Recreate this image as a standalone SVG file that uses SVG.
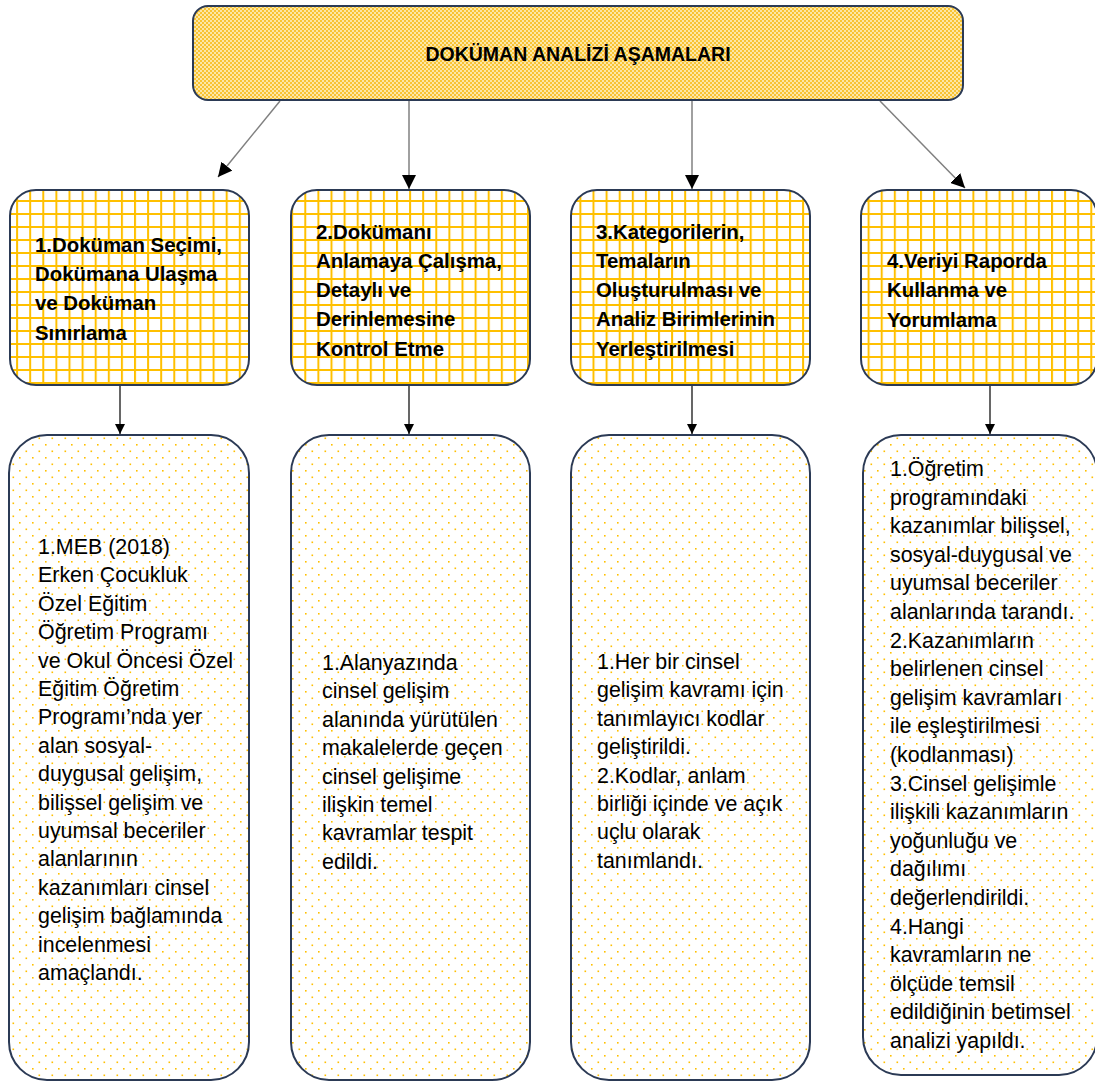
<svg xmlns="http://www.w3.org/2000/svg" width="1095" height="1082" viewBox="0 0 1095 1082">
<defs>
<pattern id="checker" patternUnits="userSpaceOnUse" width="4" height="4">
<rect width="4" height="4" fill="#FDE7A6"/>
<rect width="2" height="2" fill="#F8C334"/>
<rect x="2" y="2" width="2" height="2" fill="#F8C334"/>
</pattern>
<pattern id="grid" patternUnits="userSpaceOnUse" x="3" y="5" width="13.1" height="13">
<rect width="13.1" height="13" fill="#ffffff"/>
<rect width="2" height="13" fill="#FFC000"/>
<rect width="13.1" height="2" fill="#FFC000"/>
</pattern>
<pattern id="dots" patternUnits="userSpaceOnUse" x="6" y="2" width="13" height="13">
<rect width="13" height="13" fill="#ffffff"/>
<rect x="0" y="0" width="1.6" height="1.6" fill="#FFC000"/>
<rect x="6.5" y="6.5" width="1.6" height="1.6" fill="#FFC000"/>
</pattern>
<marker id="arr" viewBox="0 0 10 10" refX="10" refY="5" markerWidth="10" markerHeight="10" markerUnits="userSpaceOnUse" orient="auto">
<path d="M0,0 L10,5 L0,10 z" fill="#000000"/>
</marker>
<marker id="arrL" viewBox="0 0 10 10" refX="10" refY="5" markerWidth="14" markerHeight="14" markerUnits="userSpaceOnUse" orient="auto">
<path d="M0,0 L10,5 L0,10 z" fill="#000000"/>
</marker>
</defs>
<style>
.box{stroke:#2B3A55;stroke-width:2}
.top{fill:url(#checker)}
.hdr{fill:url(#grid)}
.body{fill:url(#dots)}
.ttl{font-family:"Liberation Sans",Arial,sans-serif;font-weight:bold;font-size:19.5px;fill:#000}
.h{font-family:"Liberation Sans",Arial,sans-serif;font-weight:bold;font-size:20.4px;fill:#000}
.b{font-family:"Liberation Sans",Arial,sans-serif;font-size:21.4px;fill:#000}
.cg{stroke:#808080;stroke-width:1.5;fill:none}
.ck{stroke:#000000;stroke-width:1.2;fill:none}
</style>

<g id="connectors">
<line class="cg" x1="280" y1="101" x2="218" y2="177" marker-end="url(#arrL)"/>
<line class="cg" x1="409" y1="101" x2="409" y2="189" marker-end="url(#arrL)"/>
<line class="cg" x1="692" y1="101" x2="692" y2="189" marker-end="url(#arrL)"/>
<line class="cg" x1="880" y1="101" x2="965" y2="188" marker-end="url(#arrL)"/>
<line class="ck" x1="120" y1="386" x2="120" y2="434" marker-end="url(#arr)"/>
<line class="ck" x1="409" y1="386" x2="409" y2="434" marker-end="url(#arr)"/>
<line class="ck" x1="692" y1="386" x2="692" y2="434" marker-end="url(#arr)"/>
<line class="ck" x1="990" y1="386" x2="990" y2="434" marker-end="url(#arr)"/>
</g>

<g id="title">
<rect class="box top" x="193" y="6" width="770" height="94" rx="15" ry="15"/>
<text class="ttl" x="578" y="61" text-anchor="middle">DOKÜMAN ANALİZİ AŞAMALARI</text>
</g>

<g id="step1">
<rect class="box hdr" x="10" y="190" width="239" height="195" rx="26" ry="26"/>
<text class="h" x="35" y="252">1.Doküman Seçimi,<tspan x="35" y="281">Dokümana Ulaşma</tspan><tspan x="35" y="310">ve Doküman</tspan><tspan x="35" y="340">Sınırlama</tspan></text>
</g>

<g id="step2">
<rect class="box hdr" x="291" y="190" width="239" height="195" rx="26" ry="26"/>
<text class="h" x="316" y="239">2.Dokümanı<tspan x="316" y="268">Anlamaya Çalışma,</tspan><tspan x="316" y="297">Detaylı ve</tspan><tspan x="316" y="326">Derinlemesine</tspan><tspan x="316" y="356">Kontrol Etme</tspan></text>
</g>

<g id="step3">
<rect class="box hdr" x="571" y="190" width="239" height="195" rx="26" ry="26"/>
<text class="h" x="596" y="239">3.Kategorilerin,<tspan x="596" y="268">Temaların</tspan><tspan x="596" y="297">Oluşturulması ve</tspan><tspan x="596" y="326">Analiz Birimlerinin</tspan><tspan x="596" y="356">Yerleştirilmesi</tspan></text>
</g>

<g id="step4">
<rect class="box hdr" x="861" y="190" width="236" height="195" rx="26" ry="26"/>
<text class="h" x="887" y="268">4.Veriyi Raporda<tspan x="887" y="297">Kullanma ve</tspan><tspan x="887" y="327">Yorumlama</tspan></text>
</g>

<g id="detail1">
<rect class="box body" x="9" y="435" width="240" height="645" rx="38" ry="38"/>
<text class="b" x="38" y="554">1.MEB (2018)<tspan x="38" dy="28.4">Erken Çocukluk</tspan><tspan x="38" dy="28.4">Özel Eğitim</tspan><tspan x="38" dy="28.4">Öğretim Programı</tspan><tspan x="38" dy="28.4">ve Okul Öncesi Özel</tspan><tspan x="38" dy="28.4">Eğitim Öğretim</tspan><tspan x="38" dy="28.4">Programı’nda yer</tspan><tspan x="38" dy="28.4">alan sosyal-</tspan><tspan x="38" dy="28.4">duygusal gelişim,</tspan><tspan x="38" dy="28.4">bilişsel gelişim ve</tspan><tspan x="38" dy="28.4">uyumsal beceriler</tspan><tspan x="38" dy="28.4">alanlarının</tspan><tspan x="38" dy="28.4">kazanımları cinsel</tspan><tspan x="38" dy="28.4">gelişim bağlamında</tspan><tspan x="38" dy="28.4">incelenmesi</tspan><tspan x="38" dy="28.4">amaçlandı.</tspan></text>
</g>

<g id="detail2">
<rect class="box body" x="291" y="435" width="239" height="645" rx="38" ry="38"/>
<text class="b" x="322" y="670">1.Alanyazında<tspan x="322" dy="28.4">cinsel gelişim</tspan><tspan x="322" dy="28.4">alanında yürütülen</tspan><tspan x="322" dy="28.4">makalelerde geçen</tspan><tspan x="322" dy="28.4">cinsel gelişime</tspan><tspan x="322" dy="28.4">ilişkin temel</tspan><tspan x="322" dy="28.4">kavramlar tespit</tspan><tspan x="322" dy="28.4">edildi.</tspan></text>
</g>

<g id="detail3">
<rect class="box body" x="571" y="435" width="239" height="645" rx="38" ry="38"/>
<text class="b" x="597" y="669">1.Her bir cinsel<tspan x="597" dy="28.4">gelişim kavramı için</tspan><tspan x="597" dy="28.4">tanımlayıcı kodlar</tspan><tspan x="597" dy="28.4">geliştirildi.</tspan><tspan x="597" dy="28.4">2.Kodlar, anlam</tspan><tspan x="597" dy="28.4">birliği içinde ve açık</tspan><tspan x="597" dy="28.4">uçlu olarak</tspan><tspan x="597" dy="28.4">tanımlandı.</tspan></text>
</g>

<g id="detail4">
<rect class="box body" x="863" y="435" width="234" height="640" rx="38" ry="38"/>
<text class="b" x="890" y="476">1.Öğretim<tspan x="890" dy="28.6">programındaki</tspan><tspan x="890" dy="28.6">kazanımlar bilişsel,</tspan><tspan x="890" dy="28.6">sosyal-duygusal ve</tspan><tspan x="890" dy="28.6">uyumsal beceriler</tspan><tspan x="890" dy="28.6">alanlarında tarandı.</tspan><tspan x="890" dy="28.6">2.Kazanımların</tspan><tspan x="890" dy="28.6">belirlenen cinsel</tspan><tspan x="890" dy="28.6">gelişim kavramları</tspan><tspan x="890" dy="28.6">ile eşleştirilmesi</tspan><tspan x="890" dy="28.6">(kodlanması)</tspan><tspan x="890" dy="28.6">3.Cinsel gelişimle</tspan><tspan x="890" dy="28.6">ilişkili kazanımların</tspan><tspan x="890" dy="28.6">yoğunluğu ve</tspan><tspan x="890" dy="28.6">dağılımı</tspan><tspan x="890" dy="28.6">değerlendirildi.</tspan><tspan x="890" dy="28.6">4.Hangi</tspan><tspan x="890" dy="28.6">kavramların ne</tspan><tspan x="890" dy="28.6">ölçüde temsil</tspan><tspan x="890" dy="28.6">edildiğinin betimsel</tspan><tspan x="890" dy="28.6">analizi yapıldı.</tspan></text>
</g>
</svg>
